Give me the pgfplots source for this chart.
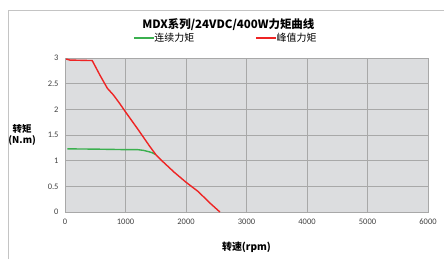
\documentclass[border=0pt]{standalone}
\usepackage{pgfplots}
\pgfplotsset{compat=1.18}
\usepackage{fontspec}
\setmainfont{Carlito}
\newfontfamily\cjk{Noto Sans CJK SC}
\definecolor{plotbg}{HTML}{DCDDDF}
\definecolor{gridc}{HTML}{A8A8A8}
\definecolor{frame}{HTML}{C4C4C4}
\definecolor{cgreen}{HTML}{3BB04F}
\definecolor{cred}{HTML}{EE2424}
\begin{document}
\begin{tikzpicture}[x=1bp,y=1bp]
\useasboundingbox (0,0) rectangle (444,259);
\draw[frame, line width=0.8bp] (8,0) -- (8,249) -- (444,249);
\begin{axis}[
  at={(65bp,47bp)}, anchor=south west,
  scale only axis, width=363bp, height=154bp,
  xmin=0, xmax=6000, ymin=0, ymax=3,
  xtick={0,1000,...,6000}, ytick={0,0.5,...,3},
  yticklabels={0,0.5,1,1.5,2,2.5,3},
  xticklabels={0,1000,2000,3000,4000,5000,6000},
  major tick length=0pt,
  tick label style={font=\fontsize{8.5}{10}\selectfont, text=black!75},
  xticklabel style={yshift=-3bp},
  yticklabel style={xshift=-3bp},
  grid=major,
  grid style={gridc, line width=0.9bp},
  axis line style={gridc, line width=0.9bp},
  axis background/.style={fill=plotbg},
  title={\cjk\bfseries MDX系列/24VDC/400W力矩曲线},
  title style={font=\fontsize{11.5}{13}\selectfont, at={(axis description cs:0.45,1.0)}, anchor=center, yshift=27bp},
  xlabel={\cjk\bfseries 转速(rpm)},
  xlabel style={font=\fontsize{10}{12}\selectfont, at={(axis description cs:0.5,-0.227)}, anchor=center},
  ylabel={\cjk\bfseries 转矩\\\cjk\bfseries (N.m)},
  ylabel style={font=\fontsize{9.5}{11}\selectfont, at={(axis description cs:-0.118,0.5)}, rotate=-90, anchor=center, align=center},
  legend columns=2,
  legend style={at={(axis description cs:0.443,1.13)}, anchor=center, draw=none, fill=none,
    font=\cjk\fontsize{10}{12}\selectfont, /tikz/every even column/.append style={column sep=59bp},
    /tikz/every odd column/.append style={column sep=-2bp}},
  legend image code/.code={\draw[#1] (0bp,0bp) -- (20bp,0bp);},
]
\addplot[cgreen, line width=1.4bp] coordinates {
(40,1.23) (500,1.225) (1000,1.215) (1200,1.215) (1300,1.20) (1400,1.17) (1450,1.15) (1500,1.12)
};
\addlegendentry{连续力矩}
\addplot[cred, line width=1.4bp] coordinates {
(20,2.98) (80,2.96) (450,2.95) (580,2.66) (700,2.41) (800,2.28) (900,2.12) (1000,1.95) (1200,1.62) (1400,1.28) (1500,1.12) (1600,1.00) (1800,0.78) (2000,0.58) (2200,0.40) (2400,0.17) (2560,0)
};
\addlegendentry{峰值力矩}
\end{axis}
\end{tikzpicture}
\end{document}
